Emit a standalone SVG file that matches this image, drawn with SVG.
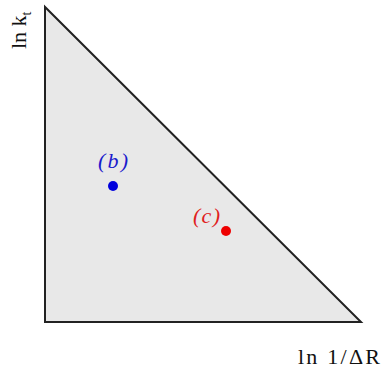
<svg xmlns="http://www.w3.org/2000/svg" width="384" height="368" viewBox="0 0 384 368">
<style>
.lbl{font-family:'Liberation Serif','Times New Roman',serif;font-size:22px;fill:#111}
.pt{font-family:'Liberation Serif','Times New Roman',serif;font-size:22px;font-style:italic}
</style>
<rect width="384" height="368" fill="#fff"/>
<g id="region">
<polygon points="45,7 45,322 361,322" fill="#e8e8e8" stroke="#222" stroke-width="2" stroke-linejoin="miter"/>
</g>
<g id="ylabel">
<text class="lbl" transform="translate(26,49) rotate(-90)">ln k<tspan font-size="14" dy="5">t</tspan></text>
</g>
<g id="xlabel">
<text class="lbl" x="298" y="364" textLength="82" lengthAdjust="spacing">ln 1/ΔR</text>
</g>
<g id="b">
<circle cx="113" cy="186" r="5" fill="#0000dd"/>
<text class="pt" x="98" y="168" fill="#1a1acc" textLength="30" lengthAdjust="spacing">(b)</text>
</g>
<g id="c">
<circle cx="226" cy="231" r="5" fill="#ee0000"/>
<text class="pt" x="193" y="223" fill="#e02020" textLength="27" lengthAdjust="spacing">(c)</text>
</g>
<g id="connectors"></g>
</svg>
